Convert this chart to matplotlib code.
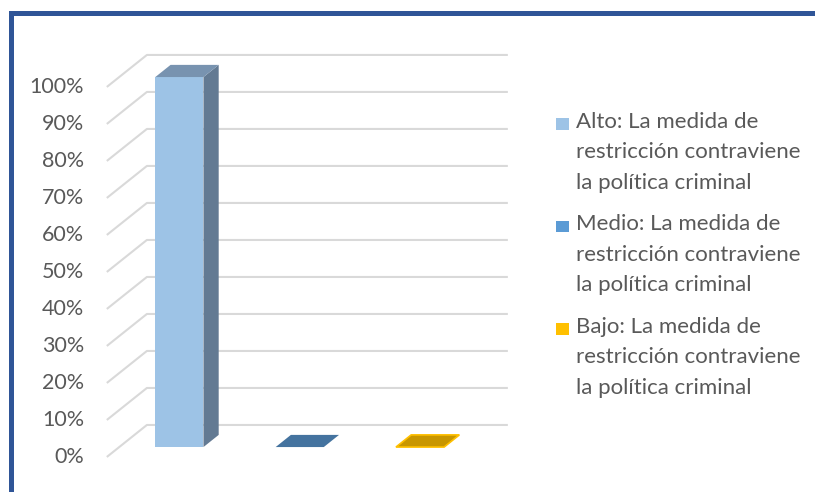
#!/usr/bin/env python3
"""Excel-style 3D column chart: nivel de contravención de la política criminal."""

import matplotlib

matplotlib.use("Agg")
import matplotlib.pyplot as plt
from matplotlib.patches import Rectangle

# data
categories = [
    "Alto: La medida de\nrestricción contraviene\nla política criminal",
    "Medio: La medida de\nrestricción contraviene\nla política criminal",
    "Bajo: La medida de\nrestricción contraviene\nla política criminal",
]
values = [100, 0, 0]
ticks = list(range(0, 101, 10))
tick_labels = [f"{t}%" for t in ticks]

# style
front_colors = ["#9DC3E6", "#5B9BD5", "#FFC000"]
top_colors = ["#7893B0", "#44739F", "#C89600"]
side_colors = ["#637A93", "#3B628A", "#A87E00"]
edge_colors = ["none", "none", "#FFC000"]
grid_color = "#D9D9D9"
text_color = "#595959"
frame_color = "#2F5597"

DX = 0.333   # depth offset in category units
DY = 8.65    # depth offset in percent units
HALF_W = 0.2
D_FRONT, D_BACK = 0.31, 0.69

plt.rcParams["font.family"] = ["Lato", "DejaVu Sans"]

fig = plt.figure(figsize=(8.15, 4.92), dpi=100)
fig.patch.set_facecolor("white")
ax = fig.add_axes([0.1163, 0.0411, 0.5315, 0.8724])
ax.set_xlim(-0.6, 3.0)
ax.set_ylim(-4, 112)
ax.axis("off")


def proj(x, v, d):
    return x + d * DX, v + d * DY


# gridlines: diagonal on the floor/side wall, horizontal on back wall
x_left, x_right = -0.5, 2.5
for t, lab in zip(ticks, tick_labels):
    p0 = proj(x_left, t, 0)
    p1 = proj(x_left, t, 1)
    p2 = proj(x_right, t, 1)
    ax.plot([p0[0], p1[0], p2[0]], [p0[1], p1[1], p2[1]],
            color=grid_color, lw=1.5, zorder=1, solid_capstyle="butt")
    ax.text(p0[0] - 0.19, t, lab, ha="right", va="center", fontsize=15.5,
            color=text_color, clip_on=False)

# bars
for i, v in enumerate(values):
    xl, xr = i - HALF_W, i + HALF_W
    if v > 0:
        front = [proj(xl, 0, D_FRONT), proj(xr, 0, D_FRONT),
                 proj(xr, v, D_FRONT), proj(xl, v, D_FRONT)]
        side = [proj(xr, 0, D_FRONT), proj(xr, 0, D_BACK),
                proj(xr, v, D_BACK), proj(xr, v, D_FRONT)]
        ax.fill(*zip(*side), color=side_colors[i], lw=0, zorder=3)
        ax.fill(*zip(*front), color=front_colors[i], lw=0, zorder=3)
    top = [proj(xl, v, D_FRONT), proj(xr, v, D_FRONT),
           proj(xr, v, D_BACK), proj(xl, v, D_BACK)]
    ax.fill(*zip(*top), facecolor=top_colors[i], edgecolor=edge_colors[i],
            lw=1.2, zorder=4)

# legend
leg_x, leg_y0, leg_step = 576 / 815, 1 - 112 / 492, 102.5 / 492
for i, lab in enumerate(categories):
    y = leg_y0 - i * leg_step
    fig.patches.append(Rectangle((556 / 815, y - 17.5 / 492), 13 / 815, 11.5 / 492,
                                 transform=fig.transFigure,
                                 facecolor=front_colors[i], lw=0))
    fig.text(leg_x, y, lab, ha="left", va="top", fontsize=16,
             color=text_color, linespacing=1.65)

# outer frame (cropped at right/bottom)
fig.patches.append(Rectangle((10.5 / 815, -0.1), 1.2, 1 - 12.5 / 492 + 0.1,
                             transform=fig.transFigure, fill=False,
                             edgecolor=frame_color, lw=3.6))

fig.savefig("out.png", dpi=100)
